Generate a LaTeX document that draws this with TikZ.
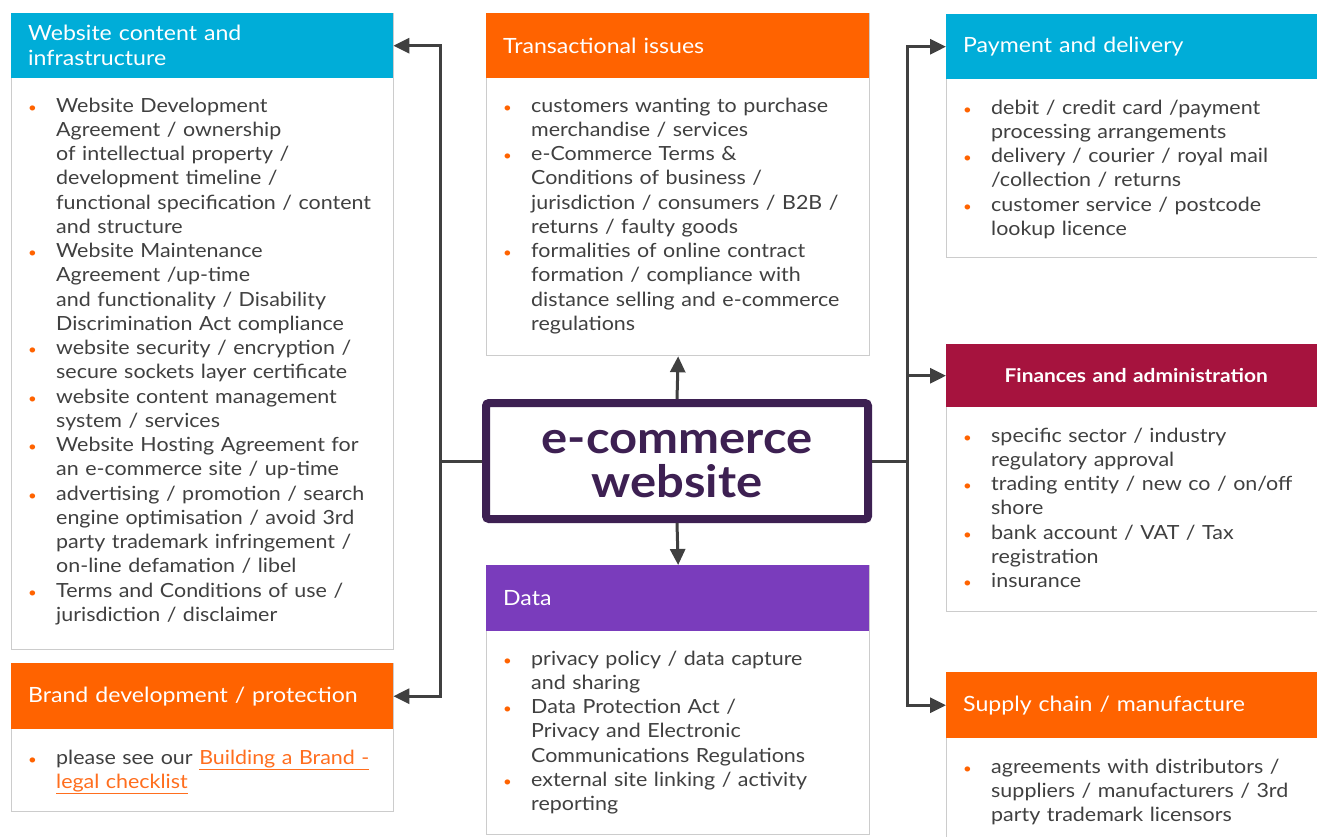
\documentclass[tikz,border=0pt]{standalone}
\usepackage{fontspec}
\usepackage{graphicx}
\setmainfont{Lato}[FakeStretch=1.1]
\usetikzlibrary{arrows.meta}
\definecolor{cy}{RGB}{0,173,216}
\definecolor{og}{RGB}{255,99,0}
\definecolor{pu}{RGB}{122,60,188}
\definecolor{cr}{RGB}{166,19,62}
\definecolor{dp}{RGB}{61,32,82}
\definecolor{txt}{RGB}{64,64,64}
\definecolor{bdr}{RGB}{204,204,204}
\definecolor{lc}{RGB}{64,64,64}
\definecolor{bulc}{RGB}{255,99,0}
\definecolor{lnk}{RGB}{255,110,30}
\newcommand\bulmark{\textcolor{bulc}{\scalebox{0.7}{\textbullet}}}
\newcommand\itm[1]{\makebox[28pt][l]{\bulmark}\begin{tabular}[t]{@{}l@{}}#1\end{tabular}\par}
\newcommand\bodyfont{\fontsize{19.5}{24.25}\selectfont\lineskiplimit=-20pt\relax\lineskip=0pt\relax}
\tikzset{
  hdr/.style={anchor=north west, inner xsep=17pt, inner ysep=0pt, align=left,
    text=white, font=\fontsize{21}{25}\selectfont},
  bodyframe/.style={anchor=north west, draw=bdr, line width=1.3pt, fill=white, inner sep=0pt},
  btext/.style={anchor=north west, inner sep=0pt, align=left, text width=400pt,
    text=txt, font=\bodyfont},
  conn/.style={draw=lc, line width=3pt},
  arrw/.style={conn, -{Triangle[length=16pt,width=15pt]}}
}
\begin{document}
\begin{tikzpicture}[x=1pt,y=-1pt]
\useasboundingbox (0,0) rectangle (1317,836);
\clip (0,0) rectangle (1317,836);
\fill[white] (0,0) rectangle (1317,836);

% ---- Website content and infrastructure
\node[bodyframe, minimum width=382pt, minimum height=636pt] (b1) at (11,13) {};
\node[hdr, fill=cy, text width=348pt, minimum height=65pt] (h1) at (11,13) {Website content and\\infrastructure};
\node[btext] (t1) at (28,95) {%
\itm{Website Development\\Agreement / ownership\\of intellectual property /\\development timeline /\\functional specification / content\\and structure}%
\itm{Website Maintenance\\Agreement /up-time\\and functionality / Disability\\Discrimination Act compliance}%
\itm{website security / encryption /\\secure sockets layer certificate}%
\itm{website content management\\system / services}%
\itm{Website Hosting Agreement for\\an e-commerce site / up-time}%
\itm{advertising / promotion / search\\engine optimisation / avoid 3rd\\party trademark infringement /\\on-line defamation / libel}%
\itm{Terms and Conditions of use /\\jurisdiction / disclaimer}};

% ---- Brand development / protection
\node[bodyframe, minimum width=382pt, minimum height=148pt] (b2) at (11,663) {};
\node[hdr, fill=og, text width=348pt, minimum height=66pt] (h2) at (11,663) {Brand development / protection};
\node[btext] (t2) at (28,747) {%
\itm{please see our \textcolor{lnk}{\underline{Building a Brand -}}\\\textcolor{lnk}{\underline{legal checklist}}}};

% ---- Transactional issues
\node[bodyframe, minimum width=383pt, minimum height=342pt] (b3) at (486,13) {};
\node[hdr, fill=og, text width=349pt, minimum height=65pt] (h3) at (486,13) {Transactional issues};
\node[btext] (t3) at (503,95) {%
\itm{customers wanting to purchase\\merchandise / services}%
\itm{e-Commerce Terms \&\\Conditions of business /\\jurisdiction / consumers / B2B /\\returns / faulty goods}%
\itm{formalities of online contract\\formation / compliance with\\distance selling and e-commerce\\regulations}};

% ---- Data
\node[bodyframe, minimum width=383pt, minimum height=269pt] (b4) at (486,565) {};
\node[hdr, fill=pu, text width=349pt, minimum height=66pt] (h4) at (486,565) {Data};
\node[btext] (t4) at (503,648) {%
\itm{privacy policy / data capture\\and sharing}%
\itm{Data Protection Act /\\Privacy and Electronic\\Communications Regulations}%
\itm{external site linking / activity\\reporting}};

% ---- Payment and delivery
\node[bodyframe, minimum width=390pt, minimum height=243pt] (b5) at (946,14) {};
\node[hdr, fill=cy, text width=356pt, minimum height=65pt] (h5) at (946,14) {Payment and delivery};
\node[btext] (t5) at (963,97) {%
\itm{debit / credit card /payment\\processing arrangements}%
\itm{delivery / courier / royal mail\\/collection / returns}%
\itm{customer service / postcode\\lookup licence}};

% ---- Finances and administration
\node[bodyframe, minimum width=390pt, minimum height=267pt] (b6) at (946,344) {};
\node[hdr, fill=cr, minimum height=63pt, align=center,
  font=\fontsize{19}{23}\selectfont\bfseries, inner xsep=0pt, text width=380pt] (h6) at (946,344) {Finances and administration};
\node[btext] (t6) at (963,425) {%
\itm{specific sector / industry\\regulatory approval}%
\itm{trading entity / new co / on/off\\shore}%
\itm{bank account / VAT / Tax\\registration}%
\itm{insurance}};

% ---- Supply chain / manufacture
\node[bodyframe, minimum width=390pt, minimum height=200pt] (b7) at (946,672) {};
\node[hdr, fill=og, text width=356pt, minimum height=66pt] (h7) at (946,672) {Supply chain / manufacture};
\node[btext] (t7) at (963,756) {%
\itm{agreements with distributors /\\suppliers / manufacturers / 3rd\\party trademark licensors}};

% ---- centre
\node[draw=dp, line width=8pt, rounded corners=3pt, minimum width=382pt, minimum height=116pt,
  inner sep=0pt] (ec) at (677,461) {};
\node[align=center, text=dp, font=\fontsize{44.5}{44.5}\selectfont\bfseries, inner sep=0pt] (ectext) at (677,464) {e-commerce\\website};

% ---- connectors
\coordinate (jl) at (440,461);
\coordinate (jr) at (907,461);
\draw[conn] (ec.west) -- (jl);
\draw[conn] (ec.east) -- (jr);
\draw[arrw] (jl) |- (h1.east);
\draw[arrw] (jl) |- (h2.east);
\draw[arrw] (jr) |- (h5.west);
\draw[arrw] (jr) |- (h6.west);
\draw[arrw] (jr) |- (h7.west);
\draw[arrw] (ec.north) -- (b3.south);
\draw[arrw] (ec.south) -- (b4.north);
\end{tikzpicture}
\end{document}
